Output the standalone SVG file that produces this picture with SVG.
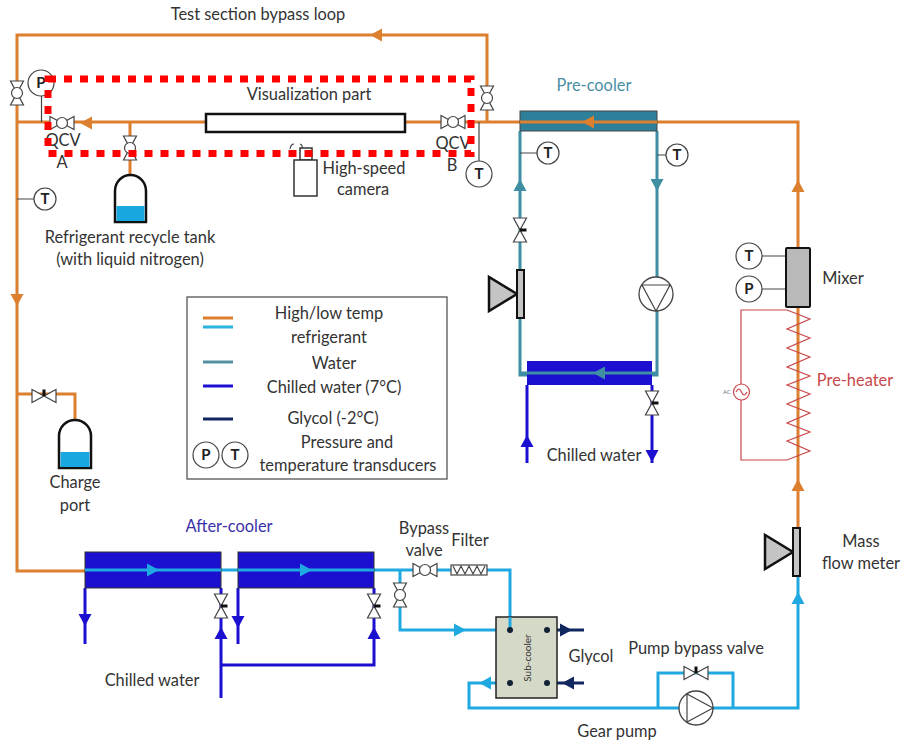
<svg xmlns="http://www.w3.org/2000/svg" width="901" height="742" viewBox="0 0 901 742">
<style>
text{font-family:"Lato","Open Sans","Liberation Sans",sans-serif;font-size:16.4px;fill:#333;text-anchor:middle}
.b{font-weight:700;font-size:15px;fill:#222}
.p{fill:none;stroke-linejoin:miter}
.o{stroke:#dc7f2e;stroke-width:3}
.c{stroke:#1fa9e0;stroke-width:3}
.w{stroke:#3f8ea3;stroke-width:3}
.h{stroke:#1c10d0;stroke-width:3}
.g{stroke:#10275f;stroke-width:3}
.t{fill:#fff;stroke:#444;stroke-width:1.200}
.l{stroke:#444;stroke-width:1.200;fill:none}
.ro{fill:#dc7f2e}.rc{fill:#1fa9e0}.rw{fill:#3f8ea3}.rh{fill:#1c10d0}.rg{fill:#10275f}
</style>
<defs>
<path id="ar" d="M-6-6.500 6 0-6 6.500Z"/>
<g id="vx"><path class="t" d="M-12-6.500V6.500L12-6.500V6.500Z"/><circle class="t" cx="0" cy="0" r="5.500"/></g>
<g id="vh"><path class="t" d="M-12-6.500V6.500L12-6.500V6.500Z"/><rect x="-1.500" y="-6.500" width="3" height="6.500" fill="#111"/></g>
<g id="tn"><circle r="13" fill="#fff" stroke="#444" stroke-width="1.200"/></g>
<g id="ts"><circle r="11" fill="#fff" stroke="#444" stroke-width="1.200"/></g>
<g id="fm"><path d="M-28-17V17L0 0Z" fill="#c4c4c4" stroke="#111" stroke-width="2.500"/><rect x="0" y="-24" width="7" height="48" fill="#c4c4c4" stroke="#111" stroke-width="2"/></g>
</defs>

<g id="connectors">
<path class="p o" d="M85 571H17V35H487V122"/>
<path class="p o" d="M17 122H206M405 122H798V248M798 307V528"/>
<path class="p o" d="M17 394H75V420M130 122V175"/>
<path class="p c" d="M85 570H400M400 570V630H510M400 570H510V630"/>
<path class="p c" d="M798 576V708H469V683H510M658 708V673H733V708"/>
<path class="p w" d="M520 131V375H657V131"/>
<path class="p h" d="M527 385V463M652 385V463"/>
<path class="p h" d="M85 588V644M238 588V644M221 588V698M374 588V665H221"/>
<path class="p g" d="M547 630H584M547 683H584"/>
<path class="l" d="M41.500 96V122M17 199H34M479 122V161M520 153H537M657 155H666M762 256H786M762 289H786"/>
<use href="#ar" class="ro" transform="translate(376 35) rotate(180)"/>
<use href="#ar" class="ro" transform="translate(86 123) rotate(180)"/>
<use href="#ar" class="ro" transform="translate(17 300) rotate(90)"/>
<use href="#ar" class="ro" transform="translate(798 186) rotate(-90)"/>
<use href="#ar" class="ro" transform="translate(798 485) rotate(-90)"/>
<use href="#ar" class="rc" transform="translate(798 598) rotate(-90)"/>
<use href="#ar" class="rc" transform="translate(460 630)"/>
<use href="#ar" class="rc" transform="translate(485 683) rotate(180)"/>
<use href="#ar" class="rw" transform="translate(520 185) rotate(-90)"/>
<use href="#ar" class="rw" transform="translate(657 185) rotate(90)"/>
<use href="#ar" class="rh" transform="translate(527 441) rotate(-90)"/>
<use href="#ar" class="rh" transform="translate(652 456) rotate(90)"/>
<use href="#ar" class="rh" transform="translate(85 620) rotate(90)"/>
<use href="#ar" class="rh" transform="translate(238 622) rotate(90)"/>
<use href="#ar" class="rh" transform="translate(221 633) rotate(-90)"/>
<use href="#ar" class="rh" transform="translate(374 633) rotate(-90)"/>
<use href="#ar" class="rg" transform="translate(566 630)"/>
<use href="#ar" class="rg" transform="translate(568 683) rotate(180)"/>
</g>

<g id="visualization-part"><rect x="206" y="114" width="199" height="18" fill="#fff" stroke="#111" stroke-width="2.500"/><text x="309" y="100">Visualization part</text></g>
<g id="valve-top-left"><use href="#vx" transform="translate(17 93) rotate(90)"/></g>
<g id="valve-qcv-a"><use href="#vx" transform="translate(62 123)"/><text x="63" y="146">QCV</text><text x="62" y="168">A</text></g>
<g id="valve-qcv-b"><use href="#vx" transform="translate(453 122)"/><text x="453" y="149">QCV</text><text x="452" y="171">B</text></g>
<g id="valve-recycle"><use href="#vx" transform="translate(130 148) rotate(90)"/></g>
<g id="valve-bypass-top"><use href="#vx" transform="translate(487 98) rotate(90)"/></g>
<g id="sensor-p-top"><use href="#tn" x="41" y="83"/><text class="b" x="41" y="88">P</text></g>
<g id="sensor-t-left"><use href="#ts" x="45" y="199"/><text class="b" x="45" y="204">T</text></g>
<g id="sensor-t-b"><use href="#tn" x="479" y="174"/><text class="b" x="479" y="179">T</text></g>
<g id="sensor-t-w1"><use href="#ts" x="548" y="153"/><text class="b" x="548" y="158">T</text></g>
<g id="sensor-t-w2"><use href="#ts" x="677" y="155"/><text class="b" x="677" y="160">T</text></g>
<g id="recycle-tank"><path d="M115 222V191A15.500 16 0 0 1 146 191V222Z" fill="#fff" stroke="#111" stroke-width="2.500"/><rect x="116.500" y="206" width="28" height="15" fill="#19a7e0"/><text x="130" y="243">Refrigerant recycle tank</text><text x="130" y="265">(with liquid nitrogen)</text></g>
<g id="camera"><path d="M290 149Q291 144 294 144M300 144Q303 145 302 149" class="l"/><rect x="300" y="148" width="12" height="12" fill="#fff" stroke="#333" stroke-width="1.500"/><rect x="294" y="160" width="23" height="36" fill="#fff" stroke="#333" stroke-width="1.500"/><text x="364" y="174">High-speed</text><text x="363" y="195">camera</text></g>

<g id="pre-cooler"><rect x="520" y="111" width="137" height="20" fill="#2e7f99" stroke="#444" stroke-width="1"/><path class="p o" d="M520 122H657"/><use href="#ar" class="ro" transform="translate(588 122) rotate(180)"/><text x="594" y="91" style="fill:#4b8ea5">Pre-cooler</text></g>
<g id="valve-water"><use href="#vh" transform="translate(520 230) rotate(90)"/></g>
<g id="flow-meter-water"><use href="#fm" transform="translate(517 294)"/></g>
<g id="pump-water"><circle cx="656" cy="294" r="17" fill="#fff" stroke="#444" stroke-width="1.300"/><path class="l" d="M642 285H670L656 311Z"/></g>
<g id="chilled-hx"><rect x="527" y="361" width="125" height="24" fill="#1c10d0"/><path class="p w" d="M520 373H657"/><use href="#ar" class="rw" transform="translate(599 373) rotate(180)"/></g>
<g id="valve-chilled"><use href="#vh" transform="translate(652 403) rotate(90)"/><text x="594" y="461">Chilled water</text></g>

<g id="mixer"><rect x="786" y="248" width="24" height="59" rx="1" fill="#b9b9b9" stroke="#111" stroke-width="2"/><text x="843" y="284">Mixer</text></g>
<g id="sensor-t-mixer"><use href="#tn" x="749" y="256"/><text class="b" x="749" y="261">T</text></g>
<g id="sensor-p-mixer"><use href="#tn" x="749" y="289"/><text class="b" x="749" y="294">P</text></g>
<g id="pre-heater"><path class="p" stroke="#c9474a" stroke-width="1.200" d="M787 310H741V384M741 400V460H787L810 451 787 441 810 432 787 423 810 413 787 404 810 394 787 385 810 376 787 367 810 357 787 348 810 338 787 329 810 319 787 310"/><circle cx="741.500" cy="392" r="8" fill="#fff" stroke="#c9474a" stroke-width="1.200"/><path class="p" stroke="#c9474a" stroke-width="1.200" d="M736 392Q739 386 741.500 392T747 392"/><text x="727" y="394" style="font-size:6px;fill:#777">AC</text><text x="855" y="386" style="fill:#c9474a">Pre-heater</text></g>
<g id="mass-flow-meter"><use href="#fm" transform="translate(793 552)"/><text x="861" y="547">Mass</text><text x="861" y="569">flow meter</text></g>

<g id="after-cooler-1"><rect x="85" y="552" width="136" height="36" fill="#1c10d0" stroke="#333" stroke-width="1"/><path class="p c" d="M85 570H221"/><use href="#ar" class="rc" transform="translate(153 570)"/></g>
<g id="after-cooler-2"><rect x="238" y="552" width="136" height="36" fill="#1c10d0" stroke="#333" stroke-width="1"/><path class="p c" d="M238 570H374"/><use href="#ar" class="rc" transform="translate(306 570)"/><text x="229" y="532" style="fill:#3a2fa8">After-cooler</text></g>
<g id="valve-ac1"><use href="#vh" transform="translate(221 606) rotate(90)"/></g>
<g id="valve-ac2"><use href="#vh" transform="translate(374 606) rotate(90)"/><text x="152" y="686">Chilled water</text></g>
<g id="valve-bypass-v"><use href="#vx" transform="translate(400 595) rotate(90)"/></g>
<g id="valve-bypass"><use href="#vx" transform="translate(425 570)"/><text x="424" y="534">Bypass</text><text x="424" y="556">valve</text></g>
<g id="filter"><rect x="451" y="565" width="36" height="10" fill="#fff" stroke="#444" stroke-width="1.200"/><path class="l" d="M453 566 457 574 461 566 465 574 469 566 473 574 477 566 481 574 485 566"/><text x="470" y="546">Filter</text></g>
<g id="sub-cooler"><rect x="496" y="617" width="61" height="81" fill="#d5d9c8" stroke="#222" stroke-width="1.500"/><path class="p c" d="M510 617V630"/><circle cx="510" cy="630" r="3" fill="#123"/><circle cx="547" cy="630" r="3" fill="#123"/><circle cx="510" cy="683" r="3" fill="#123"/><circle cx="547" cy="683" r="3" fill="#123"/><text transform="translate(531 658) rotate(-90)" style="font-size:10px">Sub-cooler</text><text x="591" y="662">Glycol</text></g>
<g id="pump-bypass-valve"><use href="#vh" transform="translate(696 673)"/><text x="696" y="654">Pump bypass valve</text></g>
<g id="gear-pump"><circle cx="696" cy="708" r="17" fill="#fff" stroke="#444" stroke-width="1.300"/><path class="l" d="M687 694V722L713 708Z"/><text x="617" y="737">Gear pump</text></g>

<g id="charge-port"><use href="#vh" transform="translate(44 396)"/><path d="M59 468V436A16 16 0 0 1 91 436V468Z" fill="#fff" stroke="#111" stroke-width="2.500"/><rect x="60.500" y="452" width="29" height="15" fill="#19a7e0"/><text x="75" y="488">Charge</text><text x="75" y="511">port</text></g>

<g id="legend"><rect x="187" y="297" width="260" height="182" fill="#fff" stroke="#555" stroke-width="1.300"/>
<path class="p" stroke="#dc7f2e" stroke-width="3" d="M203 318H233"/><path class="p" stroke="#29b5df" stroke-width="3" d="M203 327H233"/><path class="p" stroke="#54909f" stroke-width="3" d="M203 362H233"/><path class="p h" d="M203 386H233"/><path class="p g" d="M203 419H233"/>
<text x="329" y="319">High/low temp</text><text x="329" y="343">refrigerant</text><text x="334" y="369">Water</text><text x="334" y="393">Chilled water (7°C)</text><text x="333" y="424">Glycol (-2°C)</text><text x="347" y="448">Pressure and</text><text x="348" y="471">temperature transducers</text>
<use href="#tn" x="206" y="455"/><text class="b" x="206" y="460">P</text><use href="#tn" x="235" y="455"/><text class="b" x="235" y="460">T</text></g>

<text x="258" y="20">Test section bypass loop</text>
<rect id="visualization-highlight" x="48" y="79" width="423" height="74.500" fill="none" stroke="#f00" stroke-width="7" stroke-dasharray="8 8"/>
</svg>
